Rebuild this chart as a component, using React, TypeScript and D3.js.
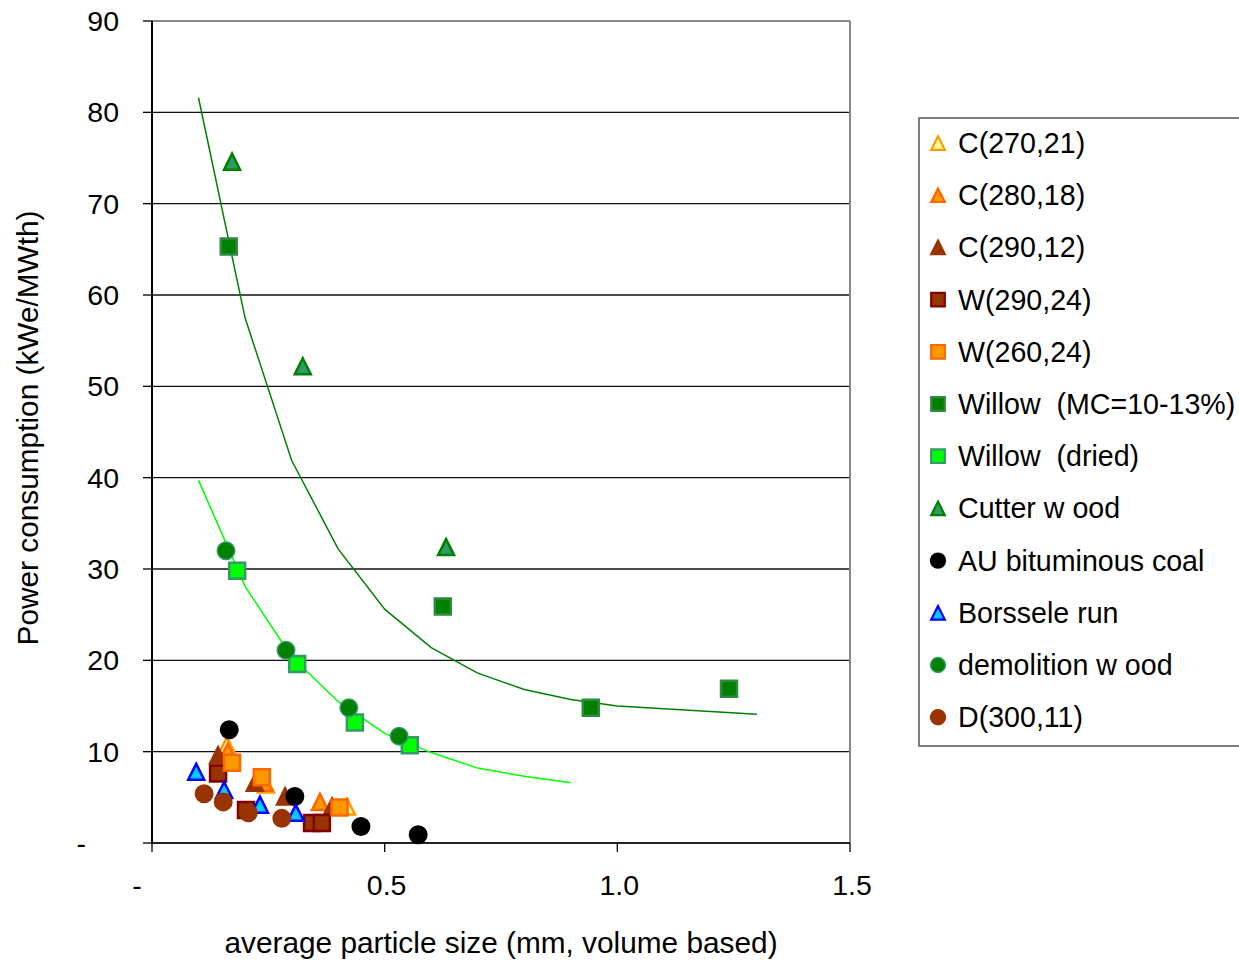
import React, { useRef, useEffect } from "react";
import * as d3 from "d3";

// series: [particle size mm, kWe/MWth]
const c270 = [[0.161, 10.7], [0.245, 6.4], [0.419, 4.0]];
const c280 = [[0.163, 10.0], [0.241, 6.6], [0.361, 4.5]];
const c290 = [[0.142, 9.6], [0.221, 6.6], [0.286, 5.1], [0.387, 4.0]];
const w290 = [[0.142, 7.6], [0.202, 3.6], [0.344, 2.2], [0.365, 2.2]];
const w260 = [[0.172, 8.8], [0.236, 7.2], [0.403, 3.9]];
const willowMC = [[0.165, 65.3], [0.625, 25.9], [0.943, 14.8], [1.24, 16.9]];
const willowDried = [[0.183, 29.8], [0.312, 19.6], [0.436, 13.2], [0.554, 10.7]];
const cutterWood = [[0.172, 74.6], [0.324, 52.2], [0.632, 32.4]];
const auCoal = [[0.166, 12.4], [0.307, 5.1], [0.449, 1.8], [0.572, 0.9]];
const borssele = [[0.095, 7.8], [0.155, 5.8], [0.232, 4.2], [0.309, 3.3]];
const demolition = [[0.159, 32.0], [0.288, 21.1], [0.423, 14.8], [0.531, 11.7]];
const d300 = [[0.112, 5.4], [0.153, 4.5], [0.207, 3.3], [0.279, 2.7]];

// trend lines
const willowFit = [[0.1, 81.6], [0.2, 57.5], [0.3, 41.9], [0.4, 32.2], [0.5, 25.6], [0.6, 21.4], [0.7, 18.6], [0.8, 16.8], [0.9, 15.7], [1.0, 15.0], [1.3, 14.1]];
const driedFit = [[0.1, 39.7], [0.2, 28.1], [0.3, 20.4], [0.4, 15.5], [0.5, 12.0], [0.6, 9.9], [0.7, 8.2], [0.8, 7.3], [0.9, 6.6]];

const yTicks = [0, 10, 20, 30, 40, 50, 60, 70, 80, 90];
const yTickLabels = ["-", "10", "20", "30", "40", "50", "60", "70", "80", "90"];
const xTicks = [0, 0.5, 1.0, 1.5];
const xTickLabels = ["-", "0.5", "1.0", "1.5"];

const series = [
  { name: "C(270,21)", data: c270, shape: "triangle", fill: "#FFFF99", stroke: "#FF9900" },
  { name: "C(280,18)", data: c280, shape: "triangle", fill: "#FF9900", stroke: "#FF6600" },
  { name: "C(290,12)", data: c290, shape: "triangle", fill: "#993300", stroke: "#993300" },
  { name: "W(290,24)", data: w290, shape: "square", fill: "#993300", stroke: "#800000" },
  { name: "W(260,24)", data: w260, shape: "square", fill: "#FF9900", stroke: "#FF6600" },
  { name: "Willow  (MC=10-13%)", data: willowMC, shape: "square", fill: "#008000", stroke: "#2E8B3E" },
  { name: "Willow  (dried)", data: willowDried, shape: "square", fill: "#00FF00", stroke: "#339966" },
  { name: "Cutter w ood", data: cutterWood, shape: "triangle", fill: "#339966", stroke: "#008000" },
  { name: "AU bituminous coal", data: auCoal, shape: "circle", fill: "#000000", stroke: "#000000" },
  { name: "Borssele run", data: borssele, shape: "triangle", fill: "#00CCFF", stroke: "#0000FF" },
  { name: "demolition w ood", data: demolition, shape: "circle", fill: "#008000", stroke: "#339966" },
  { name: "D(300,11)", data: d300, shape: "circle", fill: "#993300", stroke: "#993300" },
];

const triangle = {
  draw(context, size) {
    const w = Math.sqrt(size);
    context.moveTo(0, -w / 2);
    context.lineTo(w / 2, w / 2);
    context.lineTo(-w / 2, w / 2);
    context.closePath();
  },
};

const shapePath = (shape, scale = 1) => {
  if (shape === "triangle") return d3.symbol(triangle, 256 * scale * scale)();
  if (shape === "square") return d3.symbol(d3.symbolSquare, 256 * scale * scale)();
  return d3.symbol(d3.symbolCircle, 240 * scale * scale)();
};

const App = () => {
  const ref = useRef();

  useEffect(() => {
    const width = 1239;
    const height = 960;
    const left = 152, right = 850, top = 21, bottom = 843;
    const font = "'Liberation Sans', Arial, sans-serif";

    const svg = d3.select(ref.current).attr("width", width).attr("height", height);
    svg.selectAll("*").remove();

    const x = d3.scaleLinear().domain([0, 1.5]).range([left, right]);
    const y = d3.scaleLinear().domain([0, 90]).range([bottom, top]);

    // gridlines
    svg
      .selectAll(".grid")
      .data(yTicks.filter((t) => t > 0 && t < 90))
      .enter()
      .append("line")
      .attr("x1", left)
      .attr("x2", right)
      .attr("y1", (d) => y(d))
      .attr("y2", (d) => y(d))
      .attr("stroke", "#111")
      .attr("stroke-width", 1.3);

    // plot border (top / right)
    svg.append("line").attr("x1", left).attr("x2", right).attr("y1", y(90)).attr("y2", y(90))
      .attr("stroke", "#888").attr("stroke-width", 2);
    svg.append("line").attr("x1", right).attr("x2", right).attr("y1", top).attr("y2", bottom)
      .attr("stroke", "#888").attr("stroke-width", 2);

    // axes
    svg.append("line").attr("x1", left).attr("x2", left).attr("y1", top).attr("y2", bottom)
      .attr("stroke", "#000").attr("stroke-width", 2);
    svg.append("line").attr("x1", left).attr("x2", right).attr("y1", bottom).attr("y2", bottom)
      .attr("stroke", "#222").attr("stroke-width", 2);

    svg
      .selectAll(".ytick")
      .data(yTicks)
      .enter()
      .append("line")
      .attr("x1", left - 9)
      .attr("x2", left)
      .attr("y1", (d) => y(d))
      .attr("y2", (d) => y(d))
      .attr("stroke", "#000")
      .attr("stroke-width", 1.3);

    svg
      .selectAll(".xtick")
      .data(xTicks)
      .enter()
      .append("line")
      .attr("x1", (d) => x(d))
      .attr("x2", (d) => x(d))
      .attr("y1", bottom)
      .attr("y2", bottom + 9)
      .attr("stroke", "#000")
      .attr("stroke-width", 1.3);

    svg
      .selectAll(".ylabel")
      .data(yTicks)
      .enter()
      .append("text")
      .attr("x", (d) => (d === 0 ? 86 : 119))
      .attr("y", (d) => y(d))
      .attr("dy", "0.35em")
      .attr("text-anchor", "end")
      .style("font-family", font)
      .style("font-size", "28.5px")
      .text((d, i) => yTickLabels[i]);

    svg
      .selectAll(".xlabel")
      .data(xTicks)
      .enter()
      .append("text")
      .attr("x", (d) => (d === 0 ? x(d) - 15 : x(d) + 2))
      .attr("y", 885)
      .attr("dy", "0.35em")
      .attr("text-anchor", "middle")
      .style("font-family", font)
      .style("font-size", "28.5px")
      .text((d, i) => xTickLabels[i]);

    svg
      .append("text")
      .attr("transform", "translate(28, 428) rotate(-90)")
      .attr("dy", "0.35em")
      .attr("text-anchor", "middle")
      .style("font-family", font)
      .style("font-size", "29.8px")
      .text("Power consumption (kWe/MWth)");

    svg
      .append("text")
      .attr("x", 501)
      .attr("y", 943)
      .attr("dy", "0.35em")
      .attr("text-anchor", "middle")
      .style("font-family", font)
      .style("font-size", "29.8px")
      .text("average particle size (mm, volume based)");

    // trend lines
    const line = d3.line().x((d) => x(d[0])).y((d) => y(d[1]));
    svg.append("path").attr("d", line(willowFit)).attr("fill", "none")
      .attr("stroke", "#008000").attr("stroke-width", 1.5);
    svg.append("path").attr("d", line(driedFit)).attr("fill", "none")
      .attr("stroke", "#00FF00").attr("stroke-width", 1.5);

    // markers
    series.forEach((s) => {
      svg
        .append("g")
        .selectAll("path")
        .data(s.data)
        .enter()
        .append("path")
        .attr("transform", (d) => `translate(${x(d[0])}, ${y(d[1])})`)
        .attr("d", shapePath(s.shape))
        .attr("fill", s.fill)
        .attr("stroke", s.stroke)
        .attr("stroke-width", s.shape === "circle" ? 1.5 : 2.5)
        .attr("stroke-linejoin", "miter");
    });

    // legend
    const legend = svg.append("g");
    legend
      .append("rect")
      .attr("x", 919)
      .attr("y", 118)
      .attr("width", 340)
      .attr("height", 628)
      .attr("fill", "white")
      .attr("stroke", "#555")
      .attr("stroke-width", 1.5);

    const legendG = legend
      .selectAll(".legend")
      .data(series)
      .enter()
      .append("g")
      .attr("transform", (d, i) => `translate(938, ${143 + i * 52.2})`);

    legendG
      .append("path")
      .attr("d", (d) => shapePath(d.shape, 0.85))
      .attr("fill", (d) => d.fill)
      .attr("stroke", (d) => d.stroke)
      .attr("stroke-width", (d) => (d.shape === "circle" ? 1.5 : 2.2));

    legendG
      .append("text")
      .text((d) => d.name)
      .attr("x", 20)
      .attr("dy", "0.35em")
      .style("font-family", font)
      .style("font-size", "28.6px")
      .style("white-space", "pre");
  }, []);

  return <svg ref={ref} style={{ position: "absolute", left: 0, top: 0 }}></svg>;
};

export default App;
